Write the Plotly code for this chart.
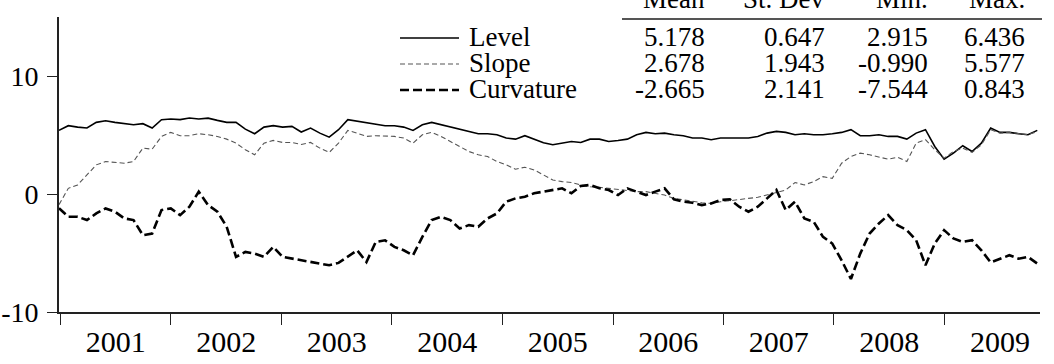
import pandas as pd
import plotly.graph_objects as go

# ---- data ----
start_date = "2000-12-27"
end_date = "2009-11-03"

level = [5.40, 5.79, 5.67, 5.59, 6.07, 6.21, 6.07, 5.96, 5.87, 5.96,
         5.59, 6.30, 6.36, 6.30, 6.44, 6.36, 6.43, 6.24, 6.07, 6.07,
         5.50, 5.11, 5.67, 5.79, 5.67, 5.73, 5.25, 5.59, 5.16, 4.82,
         5.45, 6.30, 6.16, 6.01, 5.87, 5.79, 5.79, 5.67, 5.39, 5.87,
         6.07, 5.87, 5.67, 5.50, 5.31, 5.11, 5.11, 5.02, 4.74, 4.65,
         4.94, 4.65, 4.35, 4.17, 4.31, 4.45, 4.37, 4.65, 4.65, 4.45,
         4.54, 4.65, 5.02, 5.22, 5.11, 5.16, 5.02, 4.94, 4.74, 4.74,
         4.60, 4.74, 4.74, 4.74, 4.74, 4.88, 5.16, 5.31, 5.22, 5.02,
         5.11, 5.02, 5.02, 5.11, 5.22, 5.45, 4.94, 4.94, 5.02, 4.88,
         4.88, 4.65, 5.16, 5.45, 4.03, 2.95, 3.46, 4.09, 3.60, 4.31,
         5.59, 5.22, 5.22, 5.11, 5.02, 5.39]

slope = [-0.90, 0.48, 0.77, 1.62, 2.47, 2.75, 2.67, 2.61, 2.75, 3.89,
         3.80, 4.88, 5.22, 4.94, 4.94, 5.11, 5.02, 4.88, 4.65, 4.31,
         3.75, 3.32, 4.31, 4.54, 4.37, 4.37, 4.20, 4.37, 3.89, 3.52,
         4.31, 5.39, 5.16, 4.88, 4.94, 4.94, 4.88, 4.74, 4.31, 5.02,
         5.22, 4.88, 4.45, 4.03, 3.60, 3.32, 3.18, 2.75, 2.47, 2.10,
         2.27, 2.04, 1.62, 1.19, 1.05, 0.97, 0.77, 0.62, 0.57, 0.48,
         0.34, 0.28, 0.20, 0.20, 0.06, -0.09, -0.37, -0.51, -0.65, -0.74,
         -0.80, -0.65, -0.57, -0.45, -0.37, -0.28, -0.09, 0.15, 0.34, 0.97,
         0.77, 1.05, 1.47, 1.33, 2.61, 3.18, 3.46, 3.32, 3.12, 2.95,
         3.12, 2.75, 4.31, 4.60, 3.75, 3.04, 3.60, 3.89, 3.52, 4.17,
         5.45, 5.16, 5.22, 5.11, 5.02, 5.30]

curvature = [-1.20, -1.93, -1.93, -2.21, -1.65, -1.22, -1.50, -2.07, -2.21, -3.49,
             -3.35, -1.36, -1.22, -1.79, -1.08, 0.20, -0.94, -1.50, -2.78, -5.33,
             -4.91, -5.05, -5.33, -4.48, -5.33, -5.48, -5.62, -5.76, -5.90, -6.04,
             -5.84, -5.33, -4.77, -5.76, -4.06, -3.92, -4.48, -4.77, -5.19, -3.63,
             -2.21, -1.93, -2.21, -2.92, -2.64, -2.78, -2.07, -1.65, -0.65, -0.37,
             -0.23, 0.06, 0.20, 0.34, 0.48, 0.06, 0.68, 0.77, 0.48, 0.34,
             -0.09, 0.48, 0.20, -0.09, 0.20, 0.48, -0.45, -0.65, -0.74, -0.94,
             -0.80, -0.51, -0.45, -1.08, -1.50, -1.08, -0.37, 0.34, -1.36, -0.65,
             -2.07, -2.35, -3.63, -4.20, -5.62, -7.20, -5.05, -3.35, -2.50, -1.79,
             -2.64, -3.06, -3.92, -6.04, -4.20, -3.06, -3.77, -4.06, -3.92, -4.77,
             -5.80, -5.48, -5.19, -5.48, -5.33, -5.90]

series_names = ["Level", "Slope", "Curvature"]
table_header = ["Mean", "St. Dev", "Min.", "Max."]
table_rows = [["5.178", "0.647", "2.915", "6.436"],
              ["2.678", "1.943", "-0.990", "5.577"],
              ["-2.665", "2.141", "-7.544", "0.843"]]
y_ticks = [-10, 0, 10]
y_tick_text = ["-10", "0", "10"]

dates = pd.date_range(start_date, end_date, periods=len(level))

# ---- layout geometry ----
W, H = 1054, 364
L, R, T, B = 59, 14, 17, 52
PW, PH = W - L - R, H - T - B
FONT = "Liberation Serif"


def px(xp):
    return (xp - L) / PW


def py(yp):
    return (H - B - yp) / PH


styles = [dict(color="black", width=1.6, dash="solid"),
          dict(color="#555555", width=1.1, dash="5px,3px"),
          dict(color="black", width=2.6, dash="9px,4px")]

fig = go.Figure()
for name, vals, st in zip(series_names, [level, slope, curvature], styles):
    fig.add_trace(go.Scatter(x=dates, y=vals, mode="lines", name=name,
                             line=st, showlegend=False))

fig.update_layout(
    width=W, height=H,
    margin=dict(l=L, r=R, t=T, b=B, pad=0, autoexpand=False),
    paper_bgcolor="white", plot_bgcolor="white",
    font=dict(family=FONT, size=28, color="black"),
    xaxis=dict(range=["2000-12-27", "2009-11-12"], showgrid=False, zeroline=False,
               automargin=False,
               showline=True, linecolor="#222222", linewidth=1.6,
               ticks="outside", ticklen=11, tickwidth=1.4, tickcolor="#222222",
               dtick="M12", tick0="2001-01-01", tickformat="%Y",
               ticklabelmode="period", ticklabelstandoff=-9,
               tickfont=dict(size=30, family=FONT)),
    yaxis=dict(range=[-10, 15], showgrid=False, zeroline=False,
               automargin=False,
               showline=True, linecolor="#222222", linewidth=1.6,
               ticks="outside", ticklen=10, tickwidth=1.4, tickcolor="#222222",
               tickvals=y_ticks, ticktext=y_tick_text, ticklabelstandoff=3,
               tickfont=dict(size=28, family=FONT)),
)

# ---- legend-table ----
row_y = [37, 63, 89]
col_right = [707, 827, 930, 1027]
ann = []
shapes = []
for j, h in enumerate(table_header):
    ann.append(dict(x=px(col_right[j]), y=py(-1), xref="paper", yref="paper",
                    text=h, showarrow=False, xanchor="right", yanchor="middle",
                    font=dict(size=27, family=FONT, color="black")))
shapes.append(dict(type="line", xref="paper", yref="paper",
                   x0=px(622), x1=px(1042), y0=py(19), y1=py(19),
                   line=dict(color="#555555", width=2)))
for i, (name, row) in enumerate(zip(series_names, table_rows)):
    yv = py(row_y[i])
    shapes.append(dict(type="line", xref="paper", yref="paper",
                       x0=px(400), x1=px(459), y0=py(row_y[i] + 1), y1=py(row_y[i] + 1),
                       line=styles[i]))
    ann.append(dict(x=px(467), y=yv, xref="paper", yref="paper", text=name,
                    showarrow=False, xanchor="left", yanchor="middle",
                    font=dict(size=27, family=FONT, color="black")))
    for j, v in enumerate(row):
        ann.append(dict(x=px(col_right[j]), y=yv, xref="paper", yref="paper",
                        text=v, showarrow=False, xanchor="right", yanchor="middle",
                        font=dict(size=27, family=FONT, color="black")))
fig.update_layout(annotations=ann, shapes=shapes)

fig.write_html("out.html")
